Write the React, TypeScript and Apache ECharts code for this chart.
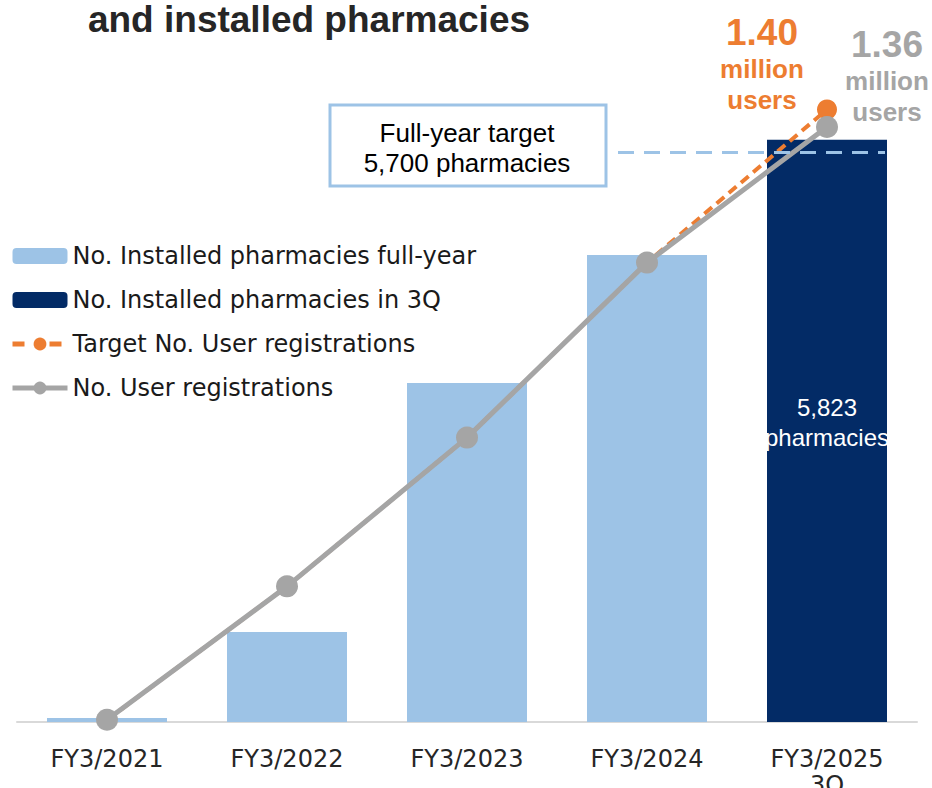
import React, { useEffect, useRef } from "react";
import * as echarts from "echarts";

const categories = ["FY3/2021", "FY3/2022", "FY3/2023", "FY3/2024", "FY3/2025\n3Q"];
const pharmaciesFullYear: (number | string)[] = [40, 900, 3390, 4670, "-"];
const pharmacies3Q: (number | string)[] = ["-", "-", "-", "-", 5823];
const targetUsers = [0.005, 0.31, 0.65, 1.05, 1.4];
const actualUsers = [0.005, 0.31, 0.65, 1.05, 1.36];
const targetPharmacies = 5700;

const seriesNames = [
  "No. Installed pharmacies full-year",
  "No. Installed pharmacies in 3Q",
  "Target No. User registrations",
  "No. User registrations",
];

const ARIAL = "'Liberation Sans', Arial, sans-serif";
const UI = "'DejaVu Sans', Verdana, sans-serif";

export default function App() {
  const ref = useRef<HTMLDivElement>(null);
  useEffect(() => {
    if (!ref.current) return;
    const chart = echarts.init(ref.current, undefined, { renderer: "svg" });
    const last = categories.length - 1;
    const userLabel = (color: string, offset: number[]) => ({
      show: true,
      position: "top",
      offset,
      formatter: (p: any) => `{a|${Number(p.value).toFixed(2)}}\n{b|million}\n{b|users}`,
      rich: {
        a: { fontSize: 37, fontWeight: "bold", color, fontFamily: ARIAL, lineHeight: 42, align: "center" },
        b: { fontSize: 26, fontWeight: "bold", color, fontFamily: ARIAL, lineHeight: 31, align: "center" },
      },
    });
    chart.setOption({
      animation: false,
      backgroundColor: "#ffffff",
      grid: { left: 17, right: 15, top: 22, bottom: 66, outerBoundsMode: "none", containLabel: false },
      legend: {
        orient: "vertical",
        left: 10,
        top: 244,
        padding: 0,
        itemWidth: 55,
        itemHeight: 16,
        itemGap: 20,
        lineStyle: { width: "inherit" },
        data: [
          { name: seriesNames[0] },
          { name: seriesNames[1] },
          { name: seriesNames[2], lineStyle: { type: [12, 25], width: 5 } },
          { name: seriesNames[3], lineStyle: { width: 5 } },
        ],
        textStyle: { fontSize: 24, lineHeight: 24, color: "#1a1a1a", fontFamily: UI },
      },
      xAxis: {
        type: "category",
        data: categories,
        axisTick: { show: false },
        axisLine: { lineStyle: { color: "#d9d9d9", width: 2 } },
        axisLabel: { fontSize: 24, lineHeight: 26, color: "#262626", fontFamily: UI, margin: 24, interval: 0 },
      },
      yAxis: [
        { type: "value", min: 0, max: 7000, show: false, splitLine: { show: false } },
        { type: "value", min: 0, max: 1.6, show: false, splitLine: { show: false } },
      ],
      series: [
        {
          name: seriesNames[0],
          type: "bar",
          data: pharmaciesFullYear,
          barWidth: 120,
          barGap: "-100%",
          itemStyle: { color: "#9dc3e6" },
        },
        {
          name: seriesNames[1],
          type: "bar",
          data: pharmacies3Q,
          barWidth: 120,
          barGap: "-100%",
          itemStyle: { color: "#032b66" },
          label: {
            show: true,
            position: "inside",
            offset: [0, -8],
            color: "#ffffff",
            fontSize: 24,
            lineHeight: 30,
            fontFamily: ARIAL,
            formatter: (p: any) => `${Number(p.value).toLocaleString("en-US")}\npharmacies`,
          },
          markLine: {
            silent: true,
            symbol: "none",
            label: { show: false },
            lineStyle: { color: "#9dc3e6", width: 3, type: [16, 10] },
            data: [[{ x: 618, yAxis: targetPharmacies }, { x: 885, yAxis: targetPharmacies }]],
          },
        },
        {
          name: seriesNames[2],
          type: "line",
          yAxisIndex: 1,
          data: targetUsers.map((v, i) =>
            i === last ? { value: v, label: userLabel("#ed7d31", [-65, 21]) } : v
          ),
          symbol: "circle",
          symbolSize: 20,
          itemStyle: { color: "#ed7d31" },
          lineStyle: { color: "#ed7d31", width: 4, type: [10, 6] },
        },
        {
          name: seriesNames[3],
          type: "line",
          yAxisIndex: 1,
          data: actualUsers.map((v, i) =>
            i === last ? { value: v, label: userLabel("#a5a5a5", [60, 16]) } : v
          ),
          symbol: "circle",
          symbolSize: 22,
          itemStyle: { color: "#a5a5a5" },
          lineStyle: { color: "#a5a5a5", width: 5 },
        },
      ],
      graphic: [
        {
          type: "text",
          style: {
            x: 309,
            y: 19,
            text: "and installed pharmacies",
            fill: "#262626",
            font: `bold 37px ${ARIAL}`,
            align: "center",
            verticalAlign: "middle",
          },
        },
        {
          type: "rect",
          shape: { x: 330, y: 105, width: 276, height: 81 },
          style: { fill: "#ffffff", stroke: "#9dc3e6", lineWidth: 3 },
        },
        {
          type: "text",
          style: {
            x: 467,
            y: 148,
            text: "Full-year target\n5,700 pharmacies",
            fill: "#000000",
            font: `26px ${ARIAL}`,
            lineHeight: 30,
            align: "center",
            verticalAlign: "middle",
          },
        },
      ],
    });
    return () => chart.dispose();
  }, []);
  return (
    <div
      ref={ref}
      style={{ position: "absolute", left: 0, top: 0, width: 932, height: 788 }}
    />
  );
}
